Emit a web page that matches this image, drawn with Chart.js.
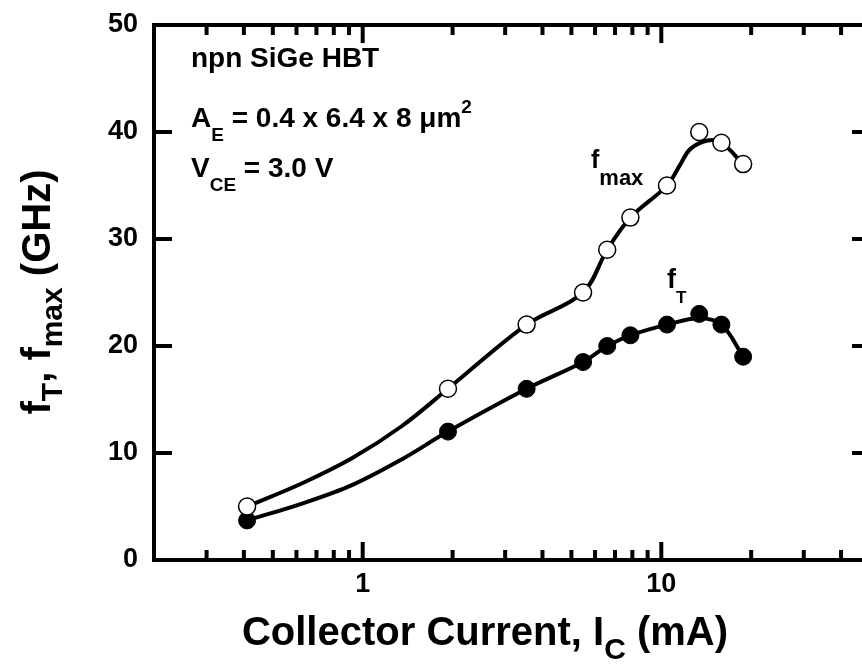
<!DOCTYPE html>
<html lang="en">
<head>
<meta charset="UTF-8">
<title>fT, fmax vs Collector Current</title>
<style>
  html, body { margin: 0; padding: 0; background: #fff; overflow: hidden; }
  canvas { display: block; }
</style>
</head>
<body>
<canvas id="grafico" width="890" height="664"></canvas>

<script src="https://cdn.jsdelivr.net/npm/chart.js@4.4.1/dist/chart.umd.min.js"></script>
<script>
// measured points
const icData   = [0.41, 1.93, 3.54, 5.47, 6.59, 7.88, 10.45, 13.4, 15.9, 18.8];
const fmaxData = [5, 16, 22, 25, 29, 32, 35, 40, 39, 37];
const ftData   = [3.7, 12, 16, 18.5, 20, 21, 22, 23, 22, 19];

// smooth fitted curves
const fmaxFitIc = [0.41, 0.63, 0.92, 1.35, 1.93, 3.54, 5.47, 6.59, 7.88, 10.45, 11.6, 12.5, 14.3, 15.9, 18.8];
const fmaxFit   = [5, 7.2, 9.5, 12.5, 16, 22, 25, 29, 32, 35, 37.0, 38.4, 39.2, 39.0, 37];
const ftFitIc   = [0.41, 0.63, 0.92, 1.35, 1.93, 3.54, 5.47, 6.59, 7.88, 10.45, 13.4, 15.9, 18.8];
const ftFit     = [3.7, 5.3, 7.0, 9.4, 12, 16, 18.5, 20, 21, 22, 22.6, 22, 19];

// axes
const xTicks  = [0.2, 0.3, 0.4, 0.5, 0.6, 0.7, 0.8, 0.9, 1, 2, 3, 4, 5, 6, 7, 8, 9, 10, 20, 30, 40, 50];
const xLabels = { 1: '1', 10: '10' };
const yTicks  = [0, 10, 20, 30, 40, 50];

const FONT = '"Liberation Sans", Arial, Helvetica, sans-serif';

function toXY(xs, ys) {
  return xs.map((x, i) => ({ x: x, y: ys[i] }));
}

// draws text pieces one after another, with sub/superscripts
function drawRuns(ctx, x, y, runs, align) {
  let total = 0;
  runs.forEach(r => {
    ctx.font = 'bold ' + r.size + 'px ' + FONT;
    r.w = ctx.measureText(r.t).width;
    total += r.w;
  });
  let cx = align === 'center' ? x - total / 2 : x;
  runs.forEach(r => {
    ctx.font = 'bold ' + r.size + 'px ' + FONT;
    ctx.fillText(r.t, cx, y + (r.dy || 0));
    cx += r.w;
  });
}

const framePlugin = {
  id: 'frame',
  afterDraw(chart) {
    const ctx = chart.ctx;
    const a = chart.chartArea;
    const sx = chart.scales.x, sy = chart.scales.y;
    ctx.save();
    ctx.strokeStyle = '#000';
    ctx.fillStyle = '#000';
    ctx.lineWidth = 4;
    ctx.lineCap = 'butt';
    ctx.strokeRect(a.left, a.top, a.right - a.left, a.bottom - a.top);

    // inward ticks
    ctx.beginPath();
    xTicks.forEach(v => {
      if (v === xTicks[0] || v === xTicks[xTicks.length - 1]) return;
      const px = sx.getPixelForValue(v);
      const len = xLabels[v] ? 18 : 10;
      ctx.moveTo(px, a.bottom); ctx.lineTo(px, a.bottom - len);
      ctx.moveTo(px, a.top);    ctx.lineTo(px, a.top + len);
    });
    yTicks.forEach(v => {
      if (v === yTicks[0] || v === yTicks[yTicks.length - 1]) return;
      const py = sy.getPixelForValue(v);
      ctx.moveTo(a.left, py);  ctx.lineTo(a.left + 18, py);
      ctx.moveTo(a.right, py); ctx.lineTo(a.right - 18, py);
    });
    ctx.stroke();

    // annotations
    ctx.textAlign = 'left';
    ctx.textBaseline = 'alphabetic';
    drawRuns(ctx, 191, 67, [{ t: 'npn SiGe HBT', size: 28 }]);
    drawRuns(ctx, 191, 127, [
      { t: 'A', size: 28 }, { t: 'E', size: 19, dy: 14 },
      { t: ' = 0.4 x 6.4 x 8 \u03bcm', size: 28 }, { t: '2', size: 19, dy: -14 }
    ]);
    drawRuns(ctx, 191, 177, [
      { t: 'V', size: 28 }, { t: 'CE', size: 19, dy: 14 }, { t: ' = 3.0 V', size: 28 }
    ]);
    drawRuns(ctx, 591, 168, [{ t: 'f', size: 25 }, { t: 'max', size: 22, dy: 17 }]);
    drawRuns(ctx, 667, 288, [{ t: 'f', size: 27 }, { t: 'T', size: 17, dy: 15 }]);

    // axis titles
    drawRuns(ctx, 485, 645, [
      { t: 'Collector Current, I', size: 40 }, { t: 'C', size: 30, dy: 14 }, { t: ' (mA)', size: 40 }
    ], 'center');
    ctx.translate(50, 292);
    ctx.rotate(-Math.PI / 2);
    drawRuns(ctx, 0, 0, [
      { t: 'f', size: 40 }, { t: 'T', size: 30, dy: 12 }, { t: ', f', size: 40 },
      { t: 'max', size: 30, dy: 12 }, { t: ' (GHz)', size: 40 }
    ], 'center');
    ctx.restore();
  }
};

new Chart(document.getElementById('grafico'), {
  type: 'scatter',
  data: {
    datasets: [
      {
        label: 'fmax',
        data: toXY(icData, fmaxData),
        showLine: false,
        pointRadius: 8.5,
        pointBackgroundColor: '#fff',
        pointBorderColor: '#000',
        pointBorderWidth: 1.5,
        order: 0
      },
      {
        label: 'fT',
        data: toXY(icData, ftData),
        showLine: false,
        pointRadius: 8.5,
        pointBackgroundColor: '#000',
        pointBorderColor: '#000',
        pointBorderWidth: 1,
        order: 0
      },
      {
        label: 'fmax fit',
        data: toXY(fmaxFitIc, fmaxFit),
        showLine: true,
        borderColor: '#000',
        borderWidth: 4,
        pointRadius: 0,
        tension: 0.35,
        order: 1
      },
      {
        label: 'fT fit',
        data: toXY(ftFitIc, ftFit),
        showLine: true,
        borderColor: '#000',
        borderWidth: 4,
        pointRadius: 0,
        tension: 0.35,
        order: 1
      }
    ]
  },
  options: {
    responsive: false,
    animation: false,
    layout: { padding: { top: 25, right: 20, left: 0, bottom: 0 } },
    plugins: {
      legend: { display: false },
      tooltip: { enabled: false }
    },
    scales: {
      x: {
        type: 'logarithmic',
        min: 0.2,
        max: 50,
        grid: { display: false, drawTicks: false },
        border: { display: false },
        afterBuildTicks: s => { s.ticks = xTicks.map(v => ({ value: v })); },
        afterFit: s => { s.height = 104; s.paddingLeft = 0; s.paddingRight = 0; },
        ticks: {
          autoSkip: false,
          maxRotation: 0,
          minRotation: 0,
          padding: 8,
          color: '#000',
          font: { family: FONT, size: 27, weight: 'bold' },
          callback: v => xLabels[v] || ''
        }
      },
      y: {
        min: 0,
        max: 50,
        grid: { display: false, drawTicks: false },
        border: { display: false },
        afterBuildTicks: s => { s.ticks = yTicks.map(v => ({ value: v })); },
        afterFit: s => { s.width = 154; s.paddingTop = 0; s.paddingBottom = 0; },
        ticks: {
          padding: 16,
          color: '#000',
          font: { family: FONT, size: 27, weight: 'bold' }
        }
      }
    }
  },
  plugins: [framePlugin]
});
</script>
</body>
</html>
